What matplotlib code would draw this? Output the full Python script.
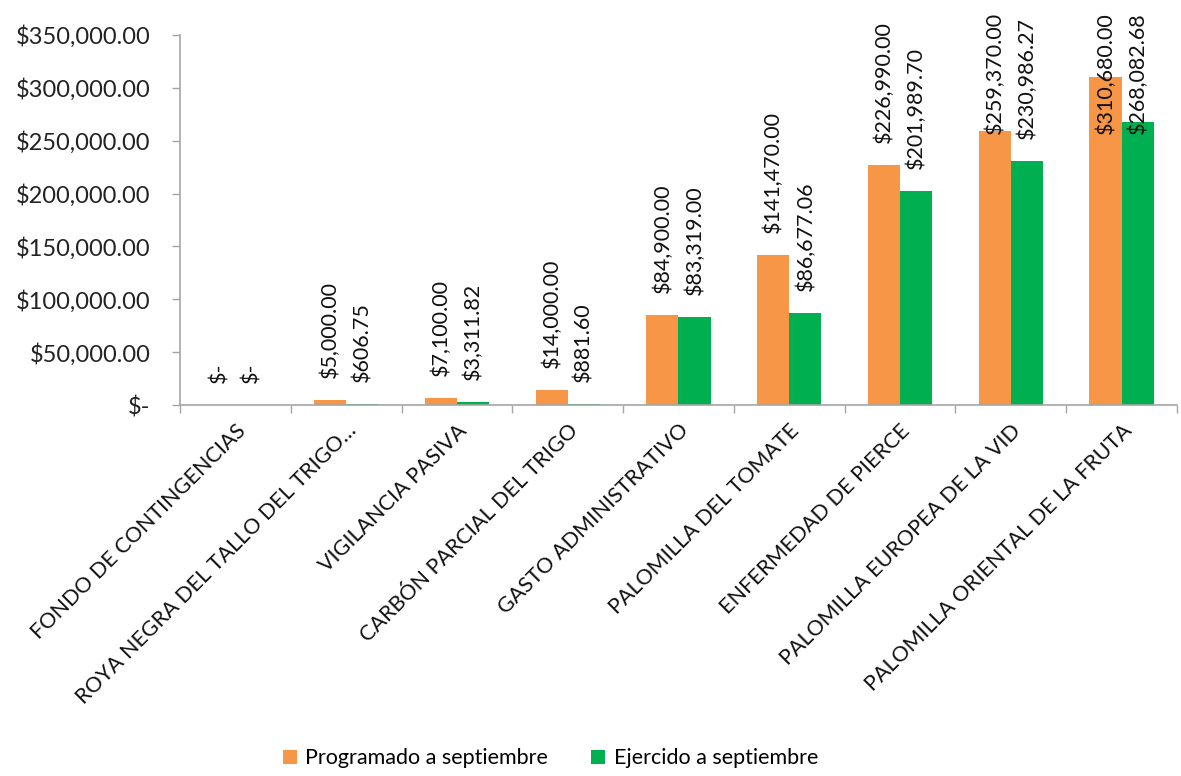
import numpy as np
import matplotlib.pyplot as plt

plt.rcParams['font.family'] = ['Lato', 'DejaVu Sans']

categorias = ["FONDO DE CONTINGENCIAS", "ROYA NEGRA DEL TALLO DEL TRIGO…",
              "VIGILANCIA PASIVA", "CARBÓN PARCIAL DEL TRIGO",
              "GASTO ADMINISTRATIVO", "PALOMILLA DEL TOMATE",
              "ENFERMEDAD DE PIERCE", "PALOMILLA EUROPEA DE LA VID",
              "PALOMILLA ORIENTAL DE LA FRUTA"]
programado = [0, 5000.00, 7100.00, 14000.00, 84900.00, 141470.00,
              226990.00, 259370.00, 310680.00]
ejercido = [0, 606.75, 3311.82, 881.60, 83319.00, 86677.06,
            201989.70, 230986.27, 268082.68]
yticks = [0, 50000, 100000, 150000, 200000, 250000, 300000, 350000]

NARANJA = "#F79646"
VERDE = "#00B050"
GRIS = "#A6A6A6"


def fmt(v):
    if v == 0:
        return "$-"
    return "${:,.2f}".format(v)


fig = plt.figure(figsize=(11.81, 7.76), dpi=100)
ax = fig.add_axes([0.1524, 0.478, 0.8442, 0.4769])

x = np.arange(len(categorias))
w = 0.29
b1 = ax.bar(x - w/2, programado, w, color=NARANJA, label="Programado a septiembre")
b2 = ax.bar(x + w/2, ejercido, w, color=VERDE, label="Ejercido a septiembre")

ax.set_xlim(-0.5, len(categorias) - 0.5)
ax.set_ylim(0, 350000)
ax.set_yticks(yticks)
ax.set_yticklabels([fmt(v) for v in yticks], fontsize=17, color="#222222")
ax.set_xticks(x)
ax.set_xticklabels(categorias, rotation=45, ha="right", va="top",
                   rotation_mode="anchor", fontsize=15.5, color="#111111")
ax.tick_params(axis="x", which="major", length=0, pad=11)
ax.set_xticks(np.arange(-0.5, len(categorias)), minor=True)
ax.tick_params(axis="x", which="minor", length=6, color=GRIS, width=1)
ax.tick_params(axis="y", length=6, color=GRIS, width=1, pad=15)

for s in ["top", "right"]:
    ax.spines[s].set_visible(False)
for s in ["left", "bottom"]:
    ax.spines[s].set_color(GRIS)
    ax.spines[s].set_linewidth(1.2)

etiquetas = []
for xs, vals in [(x - w/2, programado), (x + w/2, ejercido)]:
    for xi, v in zip(xs, vals):
        t = ax.annotate(fmt(v), xy=(xi, v), xytext=(0, 22),
                        textcoords="offset pixels", rotation=90,
                        ha="center", va="bottom", fontsize=15.5,
                        color="#111111", annotation_clip=False)
        etiquetas.append(t)

fig.legend(handles=[b1, b2], loc="lower center", bbox_to_anchor=(0.466, -0.015),
           ncol=2, frameon=False, fontsize=15.5, handlelength=0.65,
           handleheight=0.65, handletextpad=0.4, columnspacing=2.0)

# keep labels inside the figure, as the spreadsheet does
fig.canvas.draw()
r = fig.canvas.get_renderer()
tope = fig.bbox.height - 12
for t in etiquetas:
    e = t.get_window_extent(r)
    if e.y1 > tope:
        ox, oy = t.xyann
        t.xyann = (ox, oy - (e.y1 - tope))

fig.savefig("out.png", dpi=100)
